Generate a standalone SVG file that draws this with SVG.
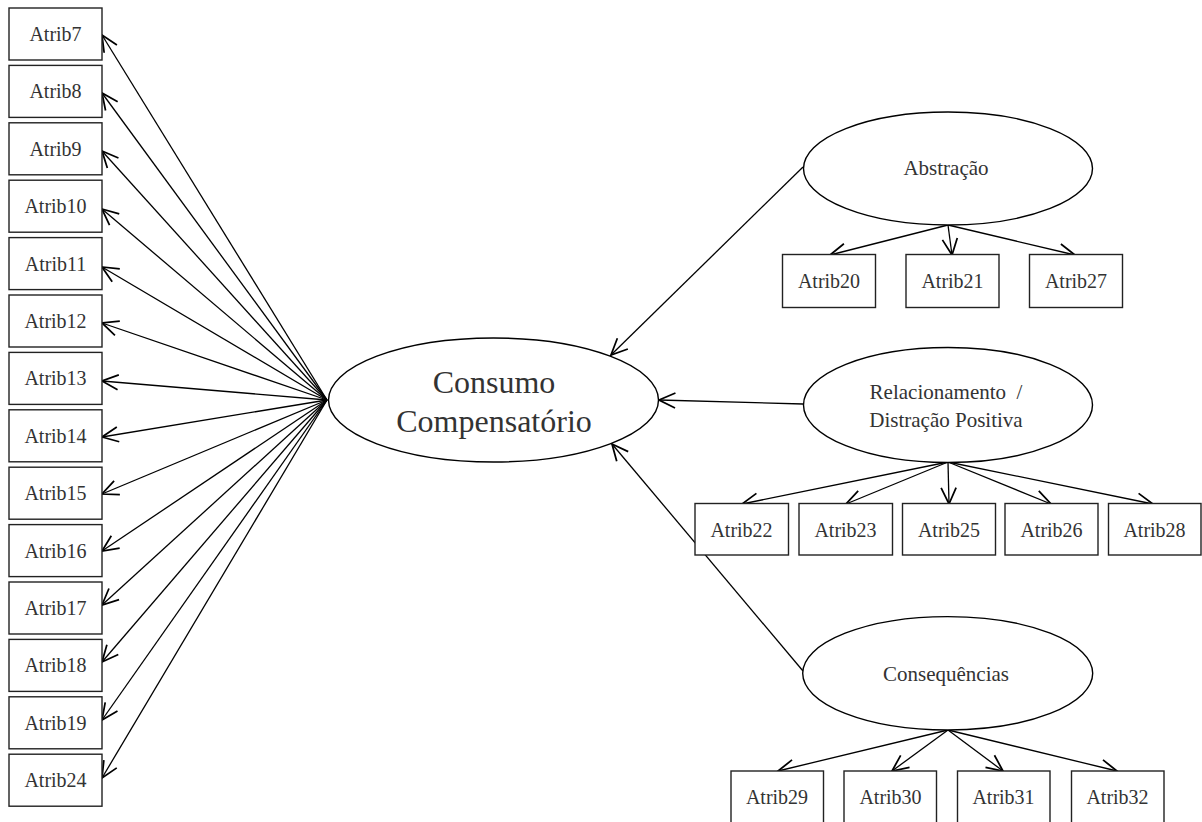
<svg xmlns="http://www.w3.org/2000/svg" width="1202" height="822" viewBox="0 0 1202 822">
  <defs>
    <marker id="open-arrow" markerUnits="userSpaceOnUse" markerWidth="20" markerHeight="20" viewBox="-14 -8 16 16" refX="0" refY="0" orient="auto">
      <path d="M-13,-6 L0,0 L-13,6" fill="none" stroke="#000" stroke-width="1.4"/>
    </marker>
  </defs>
  <style>
    .box { fill: #fff; stroke: #222; stroke-width: 1.4; }
    .ell { fill: #fff; stroke: #000; stroke-width: 1.4; }
    .lbl { font-family: "Liberation Serif", "Times New Roman", serif; font-size: 20px; fill: #333; text-anchor: middle; }
    .lbl-lg { font-family: "Liberation Serif", "Times New Roman", serif; font-size: 21px; fill: #333; text-anchor: middle; }
    .lbl-main { font-family: "Liberation Serif", "Times New Roman", serif; font-size: 32px; fill: #333; text-anchor: middle; }
    .edge { fill: none; stroke: #000; stroke-width: 1.3; marker-end: url(#open-arrow); }
  </style>

  <rect width="1202" height="822" fill="#fff"/>

  <!-- connectors -->
  <g id="connectors">
    <!-- central construct to its indicators -->
    <line class="edge" x1="327" y1="400" x2="102" y2="35"/>
    <line class="edge" x1="327" y1="400" x2="102" y2="93"/>
    <line class="edge" x1="327" y1="400" x2="102" y2="151"/>
    <line class="edge" x1="327" y1="400" x2="102" y2="209"/>
    <line class="edge" x1="327" y1="400" x2="102" y2="267"/>
    <line class="edge" x1="327" y1="400" x2="102" y2="323"/>
    <line class="edge" x1="327" y1="400" x2="102" y2="381"/>
    <line class="edge" x1="327" y1="400" x2="102" y2="437"/>
    <line class="edge" x1="327" y1="400" x2="102" y2="494"/>
    <line class="edge" x1="327" y1="400" x2="102" y2="551"/>
    <line class="edge" x1="327" y1="400" x2="102" y2="605"/>
    <line class="edge" x1="327" y1="400" x2="102" y2="662"/>
    <line class="edge" x1="327" y1="400" x2="102" y2="720"/>
    <line class="edge" x1="327" y1="400" x2="102" y2="778"/>

    <!-- dimensions to central construct -->
    <line class="edge" x1="803" y1="167" x2="611" y2="355"/>
    <line class="edge" x1="803" y1="404" x2="659" y2="400"/>
    <line class="edge" x1="803" y1="671" x2="612" y2="444"/>

    <!-- Abstração indicators -->
    <line class="edge" x1="948" y1="225" x2="830" y2="255"/>
    <line class="edge" x1="948" y1="225" x2="952" y2="255"/>
    <line class="edge" x1="948" y1="225" x2="1075" y2="255"/>

    <!-- Relacionamento indicators -->
    <line class="edge" x1="948" y1="462" x2="742" y2="504"/>
    <line class="edge" x1="948" y1="462" x2="846" y2="504"/>
    <line class="edge" x1="948" y1="462" x2="949" y2="504"/>
    <line class="edge" x1="948" y1="462" x2="1051" y2="504"/>
    <line class="edge" x1="948" y1="462" x2="1153" y2="504"/>

    <!-- Consequências indicators -->
    <line class="edge" x1="948" y1="730" x2="778" y2="771"/>
    <line class="edge" x1="948" y1="730" x2="892" y2="771"/>
    <line class="edge" x1="948" y1="730" x2="1003" y2="771"/>
    <line class="edge" x1="948" y1="730" x2="1117" y2="771"/>
  </g>

  <!-- left column indicators -->
  <g id="atrib7"><rect class="box" x="9" y="8" width="93" height="52"/><text class="lbl" x="55.5" y="41">Atrib7</text></g>
  <g id="atrib8"><rect class="box" x="9" y="65.4" width="93" height="52"/><text class="lbl" x="55.5" y="98.4">Atrib8</text></g>
  <g id="atrib9"><rect class="box" x="9" y="122.8" width="93" height="52"/><text class="lbl" x="55.5" y="155.8">Atrib9</text></g>
  <g id="atrib10"><rect class="box" x="9" y="180.2" width="93" height="52"/><text class="lbl" x="55.5" y="213.2">Atrib10</text></g>
  <g id="atrib11"><rect class="box" x="9" y="237.6" width="93" height="52"/><text class="lbl" x="55.5" y="270.6">Atrib11</text></g>
  <g id="atrib12"><rect class="box" x="9" y="295" width="93" height="52"/><text class="lbl" x="55.5" y="328">Atrib12</text></g>
  <g id="atrib13"><rect class="box" x="9" y="352.4" width="93" height="52"/><text class="lbl" x="55.5" y="385.4">Atrib13</text></g>
  <g id="atrib14"><rect class="box" x="9" y="409.8" width="93" height="52"/><text class="lbl" x="55.5" y="442.8">Atrib14</text></g>
  <g id="atrib15"><rect class="box" x="9" y="467.2" width="93" height="52"/><text class="lbl" x="55.5" y="500.2">Atrib15</text></g>
  <g id="atrib16"><rect class="box" x="9" y="524.6" width="93" height="52"/><text class="lbl" x="55.5" y="557.6">Atrib16</text></g>
  <g id="atrib17"><rect class="box" x="9" y="582" width="93" height="52"/><text class="lbl" x="55.5" y="615">Atrib17</text></g>
  <g id="atrib18"><rect class="box" x="9" y="639.4" width="93" height="52"/><text class="lbl" x="55.5" y="672.4">Atrib18</text></g>
  <g id="atrib19"><rect class="box" x="9" y="696.8" width="93" height="52"/><text class="lbl" x="55.5" y="729.8">Atrib19</text></g>
  <g id="atrib24"><rect class="box" x="9" y="754.2" width="93" height="52"/><text class="lbl" x="55.5" y="787.2">Atrib24</text></g>

  <!-- central construct -->
  <g id="consumo-compensatorio">
    <ellipse class="ell" cx="493.5" cy="400" rx="165" ry="62"/>
    <text class="lbl-main" x="494" y="393">Consumo</text>
    <text class="lbl-main" x="494" y="432">Compensatório</text>
  </g>

  <!-- Abstração -->
  <g id="abstracao">
    <ellipse class="ell" cx="948" cy="168.5" rx="144.5" ry="56.5"/>
    <text class="lbl-lg" x="946" y="175">Abstração</text>
  </g>
  <g id="atrib20"><rect class="box" x="782.5" y="254.5" width="93" height="53"/><text class="lbl" x="829" y="288">Atrib20</text></g>
  <g id="atrib21"><rect class="box" x="906" y="254.5" width="93" height="53"/><text class="lbl" x="952.5" y="288">Atrib21</text></g>
  <g id="atrib27"><rect class="box" x="1029.5" y="254.5" width="93" height="53"/><text class="lbl" x="1076" y="288">Atrib27</text></g>

  <!-- Relacionamento / Distração Positiva -->
  <g id="relacionamento">
    <ellipse class="ell" cx="948" cy="405" rx="144.5" ry="57.5"/>
    <text class="lbl-lg" x="946" y="399">Relacionamento &#160;/</text>
    <text class="lbl-lg" x="946" y="427">Distração Positiva</text>
  </g>
  <g id="atrib22"><rect class="box" x="695" y="503.5" width="93.5" height="51.5"/><text class="lbl" x="741.5" y="536.5">Atrib22</text></g>
  <g id="atrib23"><rect class="box" x="799" y="503.5" width="93.5" height="51.5"/><text class="lbl" x="845.5" y="536.5">Atrib23</text></g>
  <g id="atrib25"><rect class="box" x="902.5" y="503.5" width="93" height="51.5"/><text class="lbl" x="949" y="536.5">Atrib25</text></g>
  <g id="atrib26"><rect class="box" x="1005" y="503.5" width="93" height="51.5"/><text class="lbl" x="1051.5" y="536.5">Atrib26</text></g>
  <g id="atrib28"><rect class="box" x="1108.5" y="503.5" width="92.5" height="51.5"/><text class="lbl" x="1154.5" y="536.5">Atrib28</text></g>

  <!-- Consequências -->
  <g id="consequencias">
    <ellipse class="ell" cx="947.7" cy="673.3" rx="145" ry="56.7"/>
    <text class="lbl-lg" x="946" y="681">Consequências</text>
  </g>
  <g id="atrib29"><rect class="box" x="731" y="771" width="92.5" height="54"/><text class="lbl" x="777" y="804">Atrib29</text></g>
  <g id="atrib30"><rect class="box" x="844" y="771" width="92.5" height="54"/><text class="lbl" x="890.5" y="804">Atrib30</text></g>
  <g id="atrib31"><rect class="box" x="957.5" y="771" width="92.5" height="54"/><text class="lbl" x="1003.5" y="804">Atrib31</text></g>
  <g id="atrib32"><rect class="box" x="1071.5" y="771" width="92.5" height="54"/><text class="lbl" x="1117.5" y="804">Atrib32</text></g>
</svg>
